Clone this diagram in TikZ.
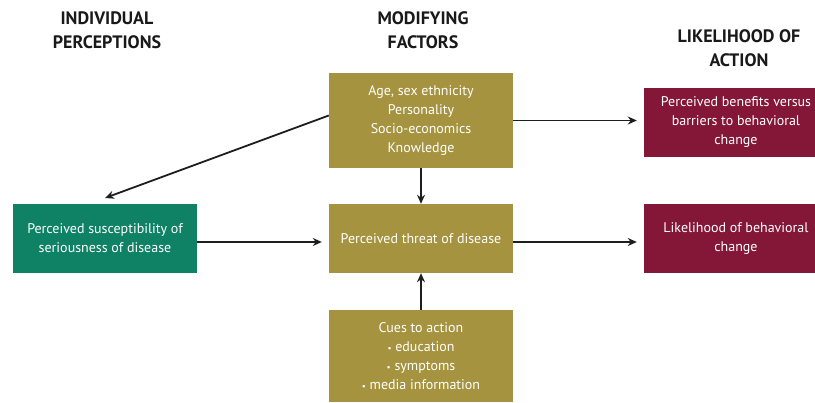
\documentclass[tikz,border=0pt]{standalone}
\usepackage{fontspec}
\setmainfont{PT Sans}
\usetikzlibrary{arrows.meta}
\definecolor{olive}{RGB}{165,147,64}
\definecolor{tealgreen}{RGB}{15,130,101}
\definecolor{maroon}{RGB}{132,23,55}
\definecolor{arrowc}{RGB}{30,30,30}
\newcommand{\bul}{{\fontsize{9}{9}\selectfont •}}
\tikzset{
  box/.style={inner sep=0pt, text=white, align=center, font=\fontsize{14}{19}\selectfont},
  olivebox/.style={box, fill=olive, minimum width=184pt},
  greenbox/.style={box, fill=tealgreen, minimum width=184pt, minimum height=69pt},
  maroonbox/.style={box, fill=maroon, minimum width=184pt, minimum height=69pt},
  header/.style={align=center, font=\fontsize{18}{24}\selectfont\bfseries, text=black!90},
  arr/.style={draw=arrowc, line width=1.8pt, -{Stealth[length=9pt,width=8pt]}}
}
\begin{document}
\begin{tikzpicture}[x=1pt,y=-1pt]
\useasboundingbox (0,0) rectangle (815,403);
\clip (0,0) rectangle (815,403);
% headers
\node[header] (h1) at (107,30) {INDIVIDUAL\\PERCEPTIONS};
\node[header] (h2) at (423,30) {MODIFYING\\FACTORS};
\node[header] (h3) at (739,48) {LIKELIHOOD OF\\ACTION};
% boxes
\node[olivebox, minimum height=95pt] (mod) at (421,120.5) {Age, sex ethnicity\\Personality\\Socio-economics\\Knowledge};
\node[olivebox, minimum height=69pt] (threat) at (421,238.5) {Perceived threat of disease};
\node[olivebox, minimum height=92pt] (cues) at (421,356) {Cues to action\\\bul\ education\\\bul\ symptoms\\\bul\ media information};
\node[greenbox] (susc) at (105,238.5) {Perceived susceptibility of\\seriousness of disease};
\node[maroonbox] (ben) at (736,122.5) {Perceived benefits versus\\barriers to behavioral\\change};
\node[maroonbox] (like) at (736,238.5) {Likelihood of behavioral\\change};
% connectors
\coordinate (dstart) at ([yshift=5pt]mod.west);
\coordinate (dend) at (105,198);
\draw[arr] (dstart) -- (dend);
\draw[arr, shorten >=7pt] (mod.east) -- (mod.east -| ben.west);
\draw[arr] (mod.south) -- (threat.north);
\draw[arr] (cues.north) -- (threat.south);
\draw[arr, shorten >=7pt] ([yshift=-3.5pt]susc.east) -- ([yshift=-3.5pt]threat.west);
\draw[arr, shorten >=7pt] ([yshift=-3.5pt]threat.east) -- ([yshift=-3.5pt]like.west);
\end{tikzpicture}
\end{document}
